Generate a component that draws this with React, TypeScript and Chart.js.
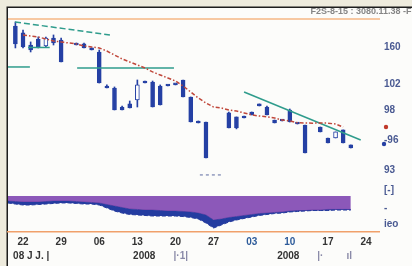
import React, { useEffect, useRef } from "react";
import { Chart, registerables } from "chart.js";

Chart.register(...registerables);

// ---- candles (x = trading-day index) ----
const candleDays = [1, 2, 3, 4, 5, 6, 7, 9, 10, 11, 12, 13, 14, 15, 16, 17, 18, 19, 20, 21, 22, 23, 24, 25, 26, 29, 30, 31, 32, 33, 34, 35, 36, 37, 38, 39, 41, 42, 43, 44, 45];
const opens = [108.07, 107.34, 106.08, 106.71, 105.98, 106.81, 106.6, 106.29, 106.19, 105.77, 105.35, 101.79, 101.58, 99.59, 99.91, 100.33, 102.31, 102.21, 101.79, 101.9, 102.0, 102.42, 100.64, 98.13, 98.02, 98.97, 98.55, 98.65, 99.07, 99.91, 99.59, 98.23, 98.23, 99.28, 97.92, 97.71, 97.5, 96.35, 96.35, 97.19, 95.62];
const highs = [108.49, 107.65, 106.4, 106.92, 106.92, 107.13, 106.81, 106.29, 106.29, 105.77, 105.56, 101.9, 101.69, 99.7, 100.22, 102.42, 102.31, 102.31, 101.9, 101.9, 102.0, 102.42, 100.64, 98.13, 98.02, 99.07, 98.55, 98.65, 99.07, 99.91, 99.7, 98.23, 98.23, 99.38, 97.92, 97.71, 97.5, 96.35, 96.98, 97.19, 95.62];
const lows = [105.77, 105.77, 105.35, 105.77, 105.87, 106.08, 104.3, 106.08, 105.77, 105.56, 102.1, 101.58, 99.28, 99.28, 99.49, 99.59, 102.1, 99.59, 99.8, 101.79, 101.9, 100.64, 98.02, 97.92, 94.26, 97.4, 97.3, 98.44, 98.76, 99.7, 98.76, 97.92, 98.13, 98.02, 97.81, 94.78, 96.98, 95.83, 96.35, 95.83, 95.3];
const closes = [106.19, 105.87, 105.56, 105.87, 106.81, 106.29, 104.3, 106.08, 105.77, 105.56, 102.1, 101.58, 99.28, 99.28, 99.49, 101.9, 102.1, 99.59, 99.8, 101.79, 101.9, 100.64, 98.02, 97.92, 94.26, 97.4, 97.4, 98.44, 98.76, 99.7, 98.76, 97.92, 98.13, 98.02, 97.81, 94.78, 96.98, 95.83, 96.98, 95.83, 95.3];

// ---- moving average ----
const maDays = [2, 3, 4, 5, 6, 7, 8, 9, 10, 11, 12, 13, 14, 15, 16, 17, 18, 19, 20, 21, 22, 23, 24, 25, 26, 27, 28, 29, 30, 31, 32, 33, 34, 35, 36, 37, 38, 39, 40, 41, 42, 43, 44];
const maValues = [107.13, 107.02, 106.92, 106.71, 106.5, 106.4, 106.29, 106.19, 105.98, 105.87, 105.77, 105.45, 105.03, 104.62, 104.3, 103.99, 103.67, 103.26, 102.94, 102.63, 102.31, 101.79, 101.16, 100.53, 100.01, 99.59, 99.49, 99.28, 99.17, 98.97, 98.76, 98.65, 98.55, 98.44, 98.23, 98.13, 97.95, 97.92, 97.9, 97.92, 97.9, 97.81, 97.5];

// ---- trend lines ----
const trendTopDays = [0.95, 13.4];
const trendTopPrices = [108.49, 107.13];
const levelLeftDays = [0.03, 2.9];
const levelLeftPrices = [103.78, 103.78];
const levelMidDays = [9.1, 21.8];
const levelMidPrices = [103.67, 103.67];
const shortLevelDays = [2.65, 5.5];
const shortLevelPrices = [105.82, 105.82];
const trendRightDays = [31.0, 46.3];
const trendRightPrices = [101.16, 96.14];
const lowMarkDays = [25.2, 28.1];
const lowMarkPrices = [92.48, 92.48];

// ---- lower indicator panel ----
const indDays = [0, 1, 2, 3, 4, 5, 6, 7, 8, 9, 10, 11, 12, 13, 14, 15, 16, 17, 18, 19, 20, 21, 22, 23, 24, 25, 26, 27, 28, 29, 30, 31, 32, 33, 34, 35, 36, 37, 38, 39, 40, 41, 42, 43, 44, 45];
const indUpper = [25.8, 25.4, 25.0, 25.0, 25.0, 25.4, 25.8, 25.8, 25.8, 25.4, 25.0, 24.6, 24.2, 22.9, 21.7, 20.4, 19.2, 18.8, 18.3, 18.3, 17.9, 17.5, 17.5, 17.1, 16.7, 15.8, 14.2, 10.0, 10.8, 12.1, 12.9, 13.8, 14.6, 15.4, 15.8, 16.3, 16.7, 17.5, 17.9, 17.9, 18.3, 18.3, 18.8, 18.8, 18.8, 18.8];
const indLower = [24.2, 23.3, 22.5, 22.5, 22.9, 23.3, 23.8, 24.2, 24.2, 23.8, 23.3, 23.3, 22.5, 20.0, 17.5, 15.8, 14.6, 14.2, 13.8, 13.3, 13.3, 13.3, 13.3, 12.9, 12.1, 10.8, 7.5, 3.3, 5.8, 8.3, 10.0, 11.3, 12.5, 13.8, 14.6, 15.4, 15.8, 16.7, 17.1, 17.5, 17.9, 17.9, 17.9, 18.3, 18.3, 18.3];
const indBandTop = 30;

// ---- axes ----
const xTickDays = [2, 7, 12, 17, 22, 27, 32, 37, 42, 47];
const xTickLabels = ["22", "29", "06", "13", "20", "27", "03", "10", "17", "24"];
const xRow2Days = [0.7, 17.9, 22.7, 36.8, 41.0, 44.8];
const xRow2Labels = ["08 J J. |", "2008", "|·1|", "2008", "|·", "ıl"];
const yTickValues = [105.8, 102, 99.3, 96.1, 93, 90.9, 89.0, 87.3];
const yTickLabels = ["160", "102", "98", "-96", "93", "[-]", "-", "ieo"];
const headerText = "F2S-8-15 : 3080.11.38 -Fi";

const BLUE = "#2540a4";
const TEAL = "#2f9c8c";

const decorPlugin = {
  id: "decor",
  beforeDraw(chart: any) {
    const { ctx, width, height, chartArea } = chart;
    ctx.save();
    ctx.fillStyle = "#eeebdd";
    ctx.fillRect(0, 0, width, height);
    ctx.fillStyle = "#fcfcfa";
    ctx.fillRect(8, 8, width - 8, height - 8);
    ctx.strokeStyle = "#1d1d1d";
    ctx.lineWidth = 1.5;
    ctx.beginPath();
    ctx.moveTo(7.25, height);
    ctx.lineTo(7.25, 7.25);
    ctx.lineTo(width, 7.25);
    ctx.stroke();
    ctx.strokeStyle = "#f7c8a2";
    ctx.lineWidth = 2;
    ctx.beginPath();
    ctx.moveTo(chartArea.left, chartArea.top);
    ctx.lineTo(chartArea.right + 1, chartArea.top);
    ctx.stroke();
    ctx.restore();
  },
  afterDraw(chart: any) {
    const { ctx, width, chartArea, scales } = chart;
    ctx.save();
    ctx.font = "bold 9px 'Liberation Sans'";
    ctx.fillStyle = "#858585";
    ctx.textAlign = "right";
    ctx.textBaseline = "middle";
    ctx.fillText(headerText, width + 2, 12);
    ctx.font = "bold 10px 'Liberation Sans'";
    ctx.textBaseline = "middle";
    xRow2Labels.forEach((t, i) => {
      const px = scales.x.getPixelForValue(xRow2Days[i]);
      ctx.textAlign = i === 0 ? "left" : "center";
      ctx.fillStyle = t.startsWith("|") || t === "ıl" ? "#8a8aa8" : "#333333";
      ctx.fillText(t, px, 256);
    });
    // last-value markers on the price axis
    const yMa = scales.y.getPixelForValue(maValues[maValues.length - 1]);
    const yClose = scales.y.getPixelForValue(closes[closes.length - 1]);
    ctx.fillStyle = "#c0392b";
    ctx.beginPath();
    ctx.arc(chartArea.right + 7, yMa, 2.2, 0, Math.PI * 2);
    ctx.fill();
    ctx.fillStyle = BLUE;
    ctx.beginPath();
    ctx.arc(chartArea.right + 5, yClose - 4, 2.2, 0, Math.PI * 2);
    ctx.fill();
    ctx.restore();
  },
};

function line(days: number[], vals: number[], color: string, width: number, dash: number[] = [], axis = "y", order = 0) {
  return {
    type: "line" as const,
    data: days.map((d, i) => ({ x: d, y: vals[i] })),
    borderColor: color,
    borderWidth: width,
    borderDash: dash,
    pointRadius: 0,
    fill: false,
    yAxisID: axis,
    order,
  };
}

export default function App() {
  const ref = useRef<HTMLCanvasElement | null>(null);

  useEffect(() => {
    if (!ref.current) return;
    const bodyColors = candleDays.map((_, i) => (closes[i] > opens[i] ? "#ffffff" : BLUE));
    const chart = new Chart(ref.current, {
      type: "bar",
      data: {
        datasets: [
          {
            type: "line",
            data: indDays.map((d, i) => ({ x: d, y: indUpper[i] })),
            borderColor: "#6e3fa6",
            borderWidth: 1,
            backgroundColor: "#8c58b9",
            pointRadius: 0,
            fill: { value: indBandTop },
            yAxisID: "y2",
            order: 9,
          } as any,
          {
            type: "line",
            data: indDays.map((d, i) => ({ x: d, y: indLower[i] })),
            borderColor: "#23399c",
            borderWidth: 1,
            borderDash: [4, 2],
            backgroundColor: "#243ca0",
            pointRadius: 0,
            fill: "-1",
            yAxisID: "y2",
            order: 8,
          } as any,
          {
            type: "bar",
            data: candleDays.map((d, i) => ({ x: d, y: [opens[i], closes[i]] })),
            backgroundColor: bodyColors,
            borderColor: BLUE,
            borderWidth: 1,
            borderSkipped: false,
            barThickness: 4,
            minBarLength: 2,
            grouped: false,
            yAxisID: "y",
            order: 3,
          } as any,
          {
            type: "bar",
            data: candleDays.map((d, i) => ({ x: d, y: [lows[i], highs[i]] })),
            backgroundColor: BLUE,
            borderWidth: 0,
            barThickness: 1,
            grouped: false,
            yAxisID: "y",
            order: 4,
          } as any,
          line(maDays, maValues, "#c0473a", 1.5, [4, 2, 1.5, 2], "y", 1),
          line(trendTopDays, trendTopPrices, TEAL, 1.5, [6, 3], "y", 2),
          line(levelLeftDays, levelLeftPrices, TEAL, 1.5, [], "y", 2),
          line(levelMidDays, levelMidPrices, TEAL, 1.5, [], "y", 2),
          line(shortLevelDays, shortLevelPrices, TEAL, 1.5, [], "y", 2),
          line(trendRightDays, trendRightPrices, TEAL, 1.5, [], "y", 2),
          line(lowMarkDays, lowMarkPrices, "#5b6aa0", 1, [3, 3], "y", 2),
        ] as any,
      },
      options: {
        animation: false,
        responsive: false,
        devicePixelRatio: 1,
        layout: { padding: { left: 8, top: 19, right: 0, bottom: 0 } },
        plugins: { legend: { display: false }, tooltip: { enabled: false } },
        scales: {
          x: {
            type: "linear",
            min: 0.03,
            max: 48.7,
            offset: false,
            grid: { display: false, drawTicks: false },
            border: { display: true, color: "#f0a06a", width: 1.5 },
            afterBuildTicks: (s: any) => {
              s.ticks = xTickDays.map((v) => ({ value: v }));
            },
            afterFit: (s: any) => {
              s.height = 34;
            },
            ticks: {
              autoSkip: false,
              maxRotation: 0,
              padding: 4,
              color: (c: any) => (c.index === 6 || c.index === 7 ? "#2d5b9a" : "#333333"),
              font: { family: "'Liberation Sans'", size: 10, weight: "bold" },
              callback: (_v: any, i: number) => xTickLabels[i],
            },
          },
          y: {
            type: "linear",
            position: "right",
            min: 86.51,
            max: 108.8,
            grid: { display: false, drawTicks: false },
            border: { display: false },
            afterBuildTicks: (s: any) => {
              s.ticks = yTickValues.map((v) => ({ value: v }));
            },
            afterFit: (s: any) => {
              s.width = 33;
            },
            ticks: {
              autoSkip: false,
              padding: 5,
              color: "#4a5a92",
              font: { family: "'Liberation Sans'", size: 10, weight: "bold" },
              callback: (_v: any, i: number) => yTickLabels[i],
            },
          },
          y2: { type: "linear", display: false, min: 0, max: 177.5 },
        },
      } as any,
      plugins: [decorPlugin],
    });
    return () => chart.destroy();
  }, []);

  return (
    <div style={{ position: "fixed", left: 0, top: 0, width: 412, height: 266 }}>
      <canvas ref={ref} width={412} height={266} style={{ display: "block" }} />
    </div>
  );
}
